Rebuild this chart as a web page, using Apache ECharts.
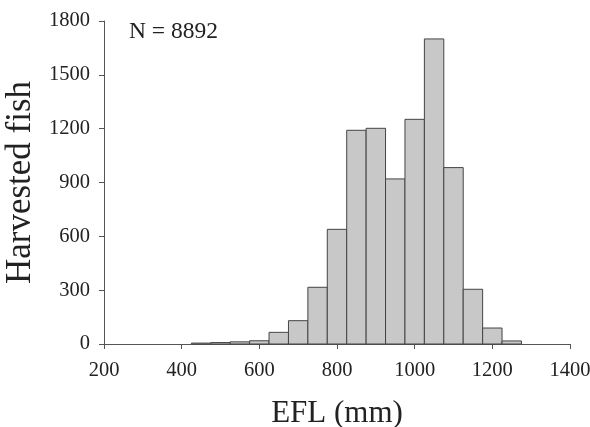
<!DOCTYPE html>
<html>
<head>
<meta charset="utf-8">
<script src="https://cdn.jsdelivr.net/npm/echarts@6/dist/echarts.min.js"></script>
<style>html,body{margin:0;padding:0;background:#fff}#c{width:590px;height:427px}</style>
</head>
<body>
<div id="c"></div>
<script>
// Histogram bin centres (mm), bin width, counts
var binCenters = [450, 500, 550, 600, 650, 700, 750, 800, 850, 900, 950, 1000, 1050, 1100, 1150, 1200, 1250];
var binWidth = 50;
var counts = [5, 8, 12, 18, 65, 130, 316, 639, 1191, 1202, 920, 1252, 1700, 983, 305, 89, 17];
var xTicks = [200, 400, 600, 800, 1000, 1200, 1400];
var yTicks = [0, 300, 600, 900, 1200, 1500, 1800];
var annotation = 'N = 8892';

var data = binCenters.map(function (c, i) { return [c - binWidth / 2, c + binWidth / 2, counts[i]]; });
var font = 'Liberation Serif';
var plain = function (v) { return String(v); };
var chart = echarts.init(document.getElementById('c'), null, { renderer: 'canvas' });
chart.setOption({
  animation: false,
  backgroundColor: '#fff',
  grid: { left: 104, right: 20, top: 21, bottom: 83, containLabel: false, outerBoundsMode: 'none' },
  xAxis: {
    type: 'value', min: xTicks[0], max: xTicks[xTicks.length - 1], interval: 200,
    name: 'EFL (mm)', nameLocation: 'middle', nameGap: 54,
    nameTextStyle: { fontFamily: font, fontSize: 31, color: '#222' },
    axisLine: { show: true, onZero: false, lineStyle: { color: '#555', width: 1 } },
    axisTick: { show: true, inside: false, length: 5, lineStyle: { color: '#555' } },
    axisLabel: { fontFamily: font, fontSize: 20.5, color: '#222', margin: 16, formatter: plain },
    splitLine: { show: false }
  },
  yAxis: {
    type: 'value', min: yTicks[0], max: yTicks[yTicks.length - 1], interval: 300,
    name: 'Harvested fish', nameLocation: 'middle', nameGap: 64, nameRotate: 90,
    nameTextStyle: { fontFamily: font, fontSize: 35, color: '#222' },
    axisLine: { show: true, lineStyle: { color: '#555', width: 1 } },
    axisTick: { show: true, inside: false, length: 5, lineStyle: { color: '#555' } },
    axisLabel: { fontFamily: font, fontSize: 20.5, color: '#222', margin: 14, formatter: plain },
    splitLine: { show: false }
  },
  series: [{
    type: 'custom',
    data: data,
    encode: { x: [0, 1], y: 2 },
    renderItem: function (params, api) {
      var p0 = api.coord([api.value(0), 0]);
      var p1 = api.coord([api.value(1), api.value(2)]);
      return {
        type: 'rect',
        shape: { x: p0[0], y: p1[1], width: p1[0] - p0[0], height: p0[1] - p1[1] },
        style: { fill: '#c8c8c8', stroke: '#444', lineWidth: 1 }
      };
    }
  }],
  graphic: [{
    type: 'text', left: 129, top: 20,
    style: { text: annotation, font: '23.5px "Liberation Serif"', fill: '#222' }
  }]
});
</script>
</body>
</html>
